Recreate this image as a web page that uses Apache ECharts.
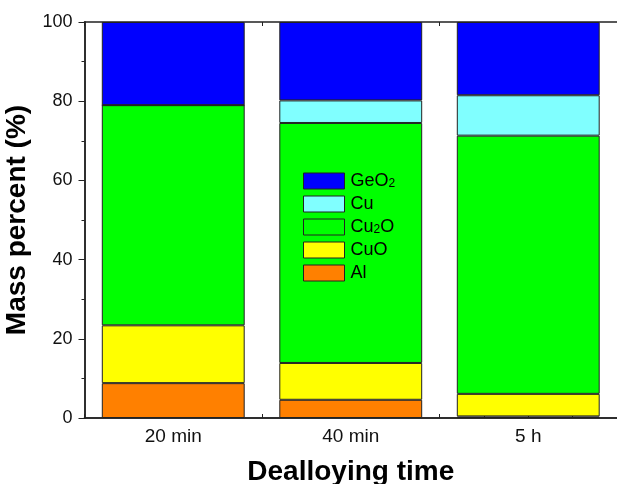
<!DOCTYPE html>
<html><head><meta charset="utf-8">
<script src="https://cdn.jsdelivr.net/npm/echarts@6/dist/echarts.min.js"></script>
<style>html,body{margin:0;padding:0;background:#fff}#c{width:617px;height:484px}</style>
</head><body><div id="c"></div>
<script>
const categories = ['20 min', '40 min', '5 h'];
const al = [8.8, 4.6, 0.4];
const cuo = [14.6, 9.3, 5.7];
const cu2o = [55.6, 60.6, 65.2];
const cu = [0, 5.7, 10.2];
const geo2 = [21.0, 19.8, 18.5];
const yTicks = [0, 20, 40, 60, 80, 100];

const names = ['Al', 'CuO', 'Cu2O', 'Cu', 'GeO2'];
const colors = ['#FF8000', '#FFFF00', '#00FF00', '#80FFFF', '#0000FF'];
const values = [al, cuo, cu2o, cu, geo2];
const font = 'Liberation Sans, Arial, sans-serif';

const chart = echarts.init(document.getElementById('c'), null, {renderer: 'canvas'});
const minorXAxis = (pos) => ({
  type: 'value', position: pos, min: 0, max: 3, interval: 0.25,
  axisLine: {show: true, onZero: false, lineStyle: {color: '#222', width: 1.5}},
  axisTick: {show: true, inside: true, length: 4, lineStyle: {color: '#222'}},
  axisLabel: {show: false}, splitLine: {show: false}
});
chart.setOption({
  animation: false,
  grid: {left: 84.5, right: 0, top: 22, bottom: 66, outerBoundsMode: 'none'},
  legend: {
    orient: 'vertical', left: 303, top: 172, padding: 0,
    itemWidth: 41, itemHeight: 16, itemGap: 5, icon: 'rect',
    data: ['GeO2', 'Cu', 'Cu2O', 'CuO', 'Al'],
    formatter: (n) => n.split('2').map((p, i) => (i > 0 ? '{s|2}' : '') + (p ? '{t|' + p + '}' : '')).join(''),
    textStyle: {fontFamily: font, fontSize: 18, color: '#000', padding: [0, 0, 0, 1],
      rich: {
        t: {fontFamily: font, fontSize: 18, lineHeight: 18, color: '#000'},
        s: {fontFamily: font, fontSize: 12, lineHeight: 4, verticalAlign: 'bottom', color: '#000'}
      }},
    itemStyle: {borderColor: '#222', borderWidth: 1}
  },
  xAxis: [
    {
      type: 'category', data: categories, position: 'bottom',
      axisLine: {show: true, lineStyle: {color: '#222', width: 1.5}},
      axisTick: {show: false},
      axisLabel: {fontFamily: font, fontSize: 19, color: '#111', margin: 9},
      name: 'Dealloying time', nameLocation: 'middle', nameGap: 40,
      nameTextStyle: {fontFamily: font, fontSize: 28, fontWeight: 'bold', color: '#000'}
    },
    minorXAxis('bottom'),
    minorXAxis('top')
  ],
  yAxis: [
    {
      type: 'value', min: 0, max: 100, interval: 20,
      axisLine: {show: true, lineStyle: {color: '#222', width: 1.5}},
      axisTick: {show: true, inside: false, length: 6, lineStyle: {color: '#222'}},
      minorTick: {show: true, splitNumber: 2, length: 3, lineStyle: {color: '#222'}},
      axisLabel: {fontFamily: font, fontSize: 18, color: '#111', margin: 12,
        formatter: (v) => yTicks.includes(v) ? String(v) : ''},
      splitLine: {show: false},
      name: 'Mass percent (%)', nameLocation: 'middle', nameGap: 51,
      nameTextStyle: {fontFamily: font, fontSize: 28, fontWeight: 'bold', color: '#000'}
    },
    {
      type: 'value', min: 0, max: 100, interval: 20, position: 'right',
      axisLine: {show: true, lineStyle: {color: '#222', width: 1.5}},
      axisTick: {show: true, inside: true, length: 5}, axisLabel: {show: false},
      splitLine: {show: false}
    }
  ],
  series: names.map((n, i) => ({
    name: n, type: 'bar', stack: 'total', xAxisIndex: 0, yAxisIndex: 0,
    barWidth: '80.5%', data: values[i],
    itemStyle: {color: colors[i], borderColor: '#222', borderWidth: 1}
  }))
});
</script></body></html>
